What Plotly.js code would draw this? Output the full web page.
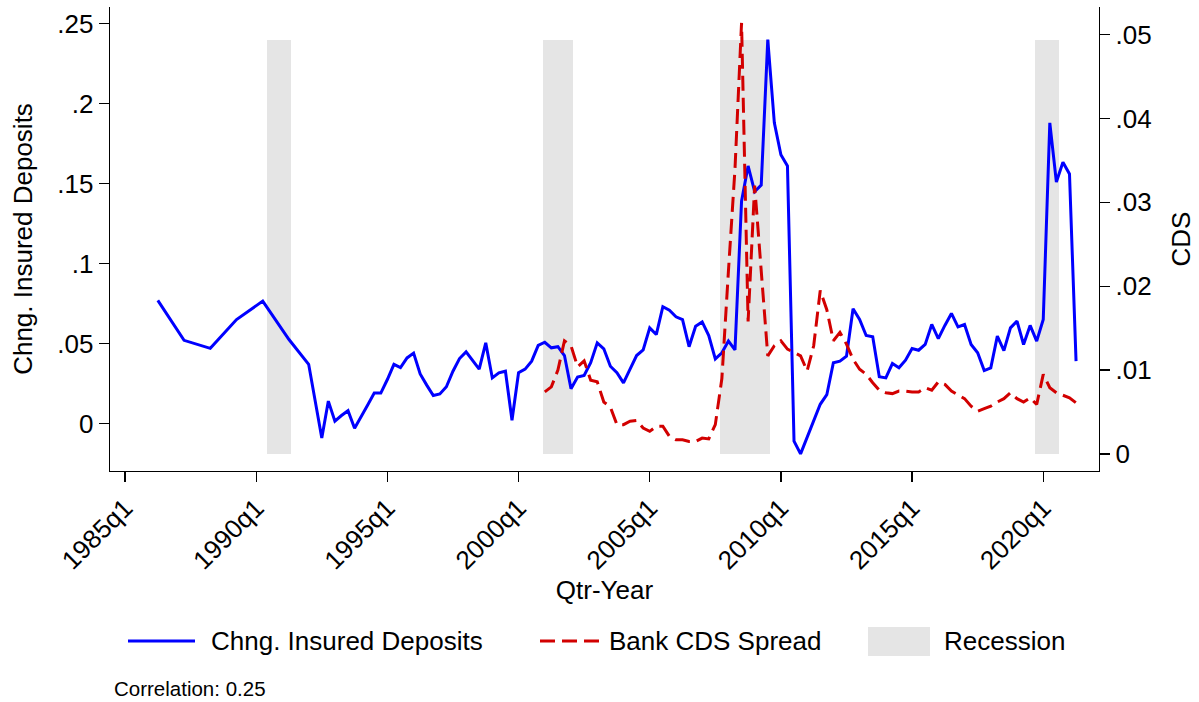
<!DOCTYPE html>
<html>
<head>
<meta charset="utf-8">
<script src="https://cdn.plot.ly/plotly-3.0.1.min.js"></script>
<style>
  html, body { margin: 0; padding: 0; background: #fff; }
  #chart { width: 1199px; height: 702px; }
</style>
</head>
<body>
<div id="chart"></div>
<script>
// ---- Data ---------------------------------------------------------------
// Change in insured deposits: sparse observations before mid-1992
const depQuartersEarly = ["1986q2", "1987q2", "1988q2", "1989q2", "1990q2", "1991q2", "1992q1"];
const depValuesEarly   = [0.077, 0.052, 0.047, 0.065, 0.0765, 0.0525, 0.037];

// Change in insured deposits: quarterly from 1992q3 to 2021q2
const depQuarterlyStart = "1992q3";
const depValuesQuarterly = [
  -0.009, 0.014,                         // 1992 q3-q4
  0.0015, 0.005, 0.008, -0.003,          // 1993
  0.004, 0.0115, 0.019, 0.019,           // 1994
  0.0275, 0.037, 0.035, 0.041,           // 1995
  0.044, 0.031, 0.024, 0.0175,           // 1996
  0.0185, 0.023, 0.0327, 0.0406,         // 1997
  0.0448, 0.039, 0.034, 0.0504,          // 1998
  0.0285, 0.0317, 0.0327, 0.002,         // 1999
  0.0317, 0.034, 0.039, 0.0488,          // 2000
  0.0508, 0.0473, 0.048, 0.0425,         // 2001
  0.0217, 0.029, 0.030, 0.038,           // 2002
  0.0504, 0.0467, 0.0358, 0.0317,        // 2003
  0.0254, 0.034, 0.0425, 0.046,          // 2004
  0.0598, 0.0556, 0.073, 0.0708,         // 2005
  0.0667, 0.065, 0.048, 0.0608,          // 2006
  0.0635, 0.055, 0.0404, 0.0442,         // 2007
  0.0515, 0.046, 0.139, 0.161,           // 2008
  0.145, 0.149, 0.24, 0.188,             // 2009
  0.168, 0.161, -0.011, -0.019,          // 2010
  -0.0085, 0.002, 0.012, 0.018,          // 2011
  0.038, 0.039, 0.0421, 0.0717,          // 2012
  0.065, 0.055, 0.0542, 0.0292,          // 2013
  0.0285, 0.0375, 0.0348, 0.0396,        // 2014
  0.0469, 0.0458, 0.0494, 0.0619,        // 2015
  0.0531, 0.0613, 0.0688, 0.0604,        // 2016
  0.0619, 0.0494, 0.0442, 0.0331,        // 2017
  0.0348, 0.0546, 0.0456, 0.0598,        // 2018
  0.064, 0.0494, 0.0613, 0.0515,         // 2019
  0.065, 0.188, 0.151, 0.1633,           // 2020
  0.156, 0.039                           // 2021 q1-q2
];

// Bank CDS spread: quarterly from 2001q1 to 2021q2
const cdsStart = "2001q1";
const cdsValues = [
  0.0074, 0.0080, 0.0100, 0.0135,        // 2001
  0.0129, 0.0104, 0.0111, 0.0088,        // 2002
  0.0086, 0.0062, 0.0056, 0.0035,        // 2003
  0.0035, 0.0039, 0.0040, 0.0031,        // 2004
  0.0027, 0.0033, 0.0033, 0.0021,        // 2005
  0.0017, 0.0017, 0.0015, 0.0015,        // 2006
  0.0019, 0.0018, 0.0035, 0.0090,        // 2007
  0.0218, 0.0340, 0.0514, 0.0158,        // 2008
  0.0320, 0.0218, 0.0117, 0.0129,        // 2009
  0.0135, 0.0125, 0.0121, 0.0117,        // 2010
  0.0099, 0.0129, 0.0195, 0.0172,        // 2011
  0.0135, 0.0145, 0.0131, 0.0113,        // 2012
  0.0101, 0.0095, 0.0085, 0.0076,        // 2013
  0.0073, 0.0072, 0.0075, 0.0075,        // 2014
  0.0074, 0.0074, 0.0079, 0.0076,        // 2015
  0.0086, 0.0083, 0.0075, 0.0071,        // 2016
  0.0066, 0.0057, 0.0051, 0.0054,        // 2017
  0.0057, 0.0062, 0.0066, 0.0073,        // 2018
  0.0066, 0.0062, 0.0067, 0.0059,        // 2019
  0.0095, 0.0079, 0.0073, 0.0070,        // 2020
  0.0067, 0.0061                         // 2021 q1-q2
];

// Recession periods (first and last shaded quarter)
const recessionStarts = ["1990q3", "2001q1", "2007q4", "2019q4"];
const recessionEnds   = ["1991q2", "2002q1", "2009q3", "2020q3"];

// Axis ticks
const xTickLabels = ["1985q1", "1990q1", "1995q1", "2000q1", "2005q1", "2010q1", "2015q1", "2020q1"];
const leftTickValues  = [0, 0.05, 0.1, 0.15, 0.2, 0.25];
const leftTickLabels  = ["0", ".05", ".1", ".15", ".2", ".25"];
const rightTickValues = [0, 0.01, 0.02, 0.03, 0.04, 0.05];
const rightTickLabels = ["0", ".01", ".02", ".03", ".04", ".05"];

const correlationText = "Correlation: 0.25";

// ---- Helpers ------------------------------------------------------------
// Quarters counted from 1985q1 (= 0)
function qIndex(label) {
  const m = /^(\d{4})q([1-4])$/.exec(label);
  return (parseInt(m[1], 10) - 1985) * 4 + (parseInt(m[2], 10) - 1);
}
function runIndices(startLabel, n) {
  const s = qIndex(startLabel);
  return Array.from({ length: n }, (_, i) => s + i);
}

const depX = depQuartersEarly.map(qIndex).concat(runIndices(depQuarterlyStart, depValuesQuarterly.length));
const depY = depValuesEarly.concat(depValuesQuarterly);
const cdsX = runIndices(cdsStart, cdsValues.length);

// Shaded recession bars span the range of the deposit series
const depMin = Math.min(...depY);
const depMax = Math.max(...depY);
const barPad = 0.33;
const recX = recessionStarts.map((s, i) => (qIndex(s) + qIndex(recessionEnds[i])) / 2);
const recW = recessionStarts.map((s, i) => qIndex(recessionEnds[i]) - qIndex(s) + 2 * barPad);

// ---- Styling ------------------------------------------------------------
const FONT = "Liberation Sans, Arial, Helvetica, sans-serif";
const FS = 26;
const BLUE = "#0000ff";
const RED = "#d20000";
const GREY = "#e5e5e5";
const DASH = "15px,7px";

// plot box in pixels
const W = 1199, H = 702;
const PL = 110, PR = 1099, PT = 7, PB = 471;
const px = x => (x - PL) / (PR - PL);
const py = y => (PB - y) / (PB - PT);

const traces = [
  {
    type: "bar",
    x: recX,
    width: recW,
    base: recX.map(() => depMin),
    y: recX.map(() => depMax - depMin),
    marker: { color: GREY, line: { width: 0 } },
    name: "Recession",
    showlegend: false,
    hoverinfo: "skip",
    xaxis: "x", yaxis: "y"
  },
  {
    type: "scatter", mode: "lines",
    x: depX, y: depY,
    line: { color: BLUE, width: 3 },
    name: "Chng. Insured Deposits",
    showlegend: false,
    xaxis: "x", yaxis: "y"
  },
  {
    type: "scatter", mode: "lines",
    x: cdsX, y: cdsValues,
    line: { color: RED, width: 3, dash: DASH },
    name: "Bank CDS Spread",
    showlegend: false,
    xaxis: "x", yaxis: "y2"
  }
];

const textFont = { family: FONT, size: FS, color: "#000" };
const axisCommon = {
  showline: true, linecolor: "#000", linewidth: 1.3,
  ticks: "outside", ticklen: 10, tickwidth: 1.3, tickcolor: "#000",
  showgrid: false, zeroline: false,
  tickfont: textFont
};

const legendY = 641;
const layout = {
  width: W, height: H,
  margin: { l: PL, r: W - PR, t: PT, b: H - PB, pad: 0 },
  paper_bgcolor: "#fff", plot_bgcolor: "#fff",
  font: { family: FONT, color: "#000", size: FS },
  showlegend: false,
  bargap: 0,
  xaxis: Object.assign({}, axisCommon, {
    range: [-2.29, 148.5],
    tickvals: xTickLabels.map(qIndex),
    ticktext: xTickLabels,
    tickangle: -45,
    title: { text: "Qtr-Year", font: textFont, standoff: 4 }
  }),
  yaxis: Object.assign({}, axisCommon, {
    range: [-0.0297, 0.2604],
    tickvals: leftTickValues,
    ticktext: leftTickLabels,
    title: { text: "Chng. Insured Deposits", font: textFont, standoff: 17 }
  }),
  yaxis2: Object.assign({}, axisCommon, {
    overlaying: "y", side: "right",
    range: [-0.00203, 0.0533],
    tickvals: rightTickValues,
    ticktext: rightTickLabels,
    title: { text: "CDS", font: textFont, standoff: 21 }
  }),
  shapes: [
    { type: "line", xref: "paper", yref: "paper", x0: px(128), x1: px(195), y0: py(legendY), y1: py(legendY),
      line: { color: BLUE, width: 3 } },
    { type: "line", xref: "paper", yref: "paper", x0: px(540), x1: px(600), y0: py(legendY), y1: py(legendY),
      line: { color: RED, width: 3, dash: DASH } },
    { type: "rect", xref: "paper", yref: "paper", x0: px(868), x1: px(930), y0: py(656), y1: py(627),
      fillcolor: GREY, line: { width: 0 } }
  ],
  annotations: [
    { xref: "paper", yref: "paper", x: px(209), y: py(legendY), xanchor: "left", yanchor: "middle",
      text: "Chng. Insured Deposits", showarrow: false, font: textFont },
    { xref: "paper", yref: "paper", x: px(607), y: py(legendY), xanchor: "left", yanchor: "middle",
      text: "Bank CDS Spread", showarrow: false, font: textFont },
    { xref: "paper", yref: "paper", x: px(942), y: py(legendY), xanchor: "left", yanchor: "middle",
      text: "Recession", showarrow: false, font: textFont },
    { xref: "paper", yref: "paper", x: px(112), y: py(688), xanchor: "left", yanchor: "middle",
      text: correlationText, showarrow: false, font: { family: FONT, size: 20.5, color: "#000" } }
  ]
};

Plotly.newPlot("chart", traces, layout, { displayModeBar: false, staticPlot: true });
</script>
</body>
</html>
